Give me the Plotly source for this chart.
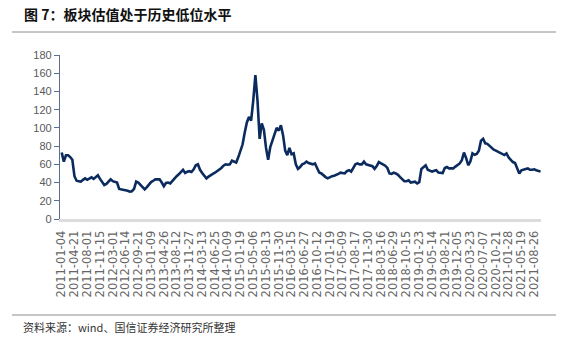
import pandas as pd
import plotly.graph_objects as go

# Tick label dates (category axis labels)
tick_dates = [
    "2011-01-04", "2011-04-21", "2011-08-01", "2011-11-15", "2012-03-01", "2012-06-14",
    "2012-09-21", "2013-01-09", "2013-04-26", "2013-08-12", "2013-11-27", "2014-03-13",
    "2014-06-25", "2014-10-09", "2015-01-19", "2015-05-06", "2015-08-13", "2015-11-30",
    "2016-03-15", "2016-06-27", "2016-10-12", "2017-01-19", "2017-05-09", "2017-08-17",
    "2017-11-30", "2018-03-16", "2018-06-29", "2018-10-15", "2019-01-23", "2019-05-14",
    "2019-08-21", "2019-12-05", "2020-03-23", "2020-07-07", "2020-10-21", "2021-01-28",
    "2021-05-19", "2021-08-26",
]
tail_dates = ["2021-09-08", "2021-09-24", "2021-10-15"]

values = [
    73, 63, 70, 70, 68, 65, 47, 42, 41.5, 41, 43, 44.6,
    43, 44.5, 45.7, 44, 46, 48, 44, 40, 37.3, 38.5, 41, 43.5,
    41.5, 41, 40, 33, 32.6, 32.5, 32, 31, 30, 30.5, 33, 41,
    40, 37.5, 35, 32.6, 35, 38, 40.5, 42, 43.5, 43.5, 43.5, 40,
    36, 39.5, 40, 39, 42, 45, 47, 49, 52, 54, 50.5, 52,
    52.5, 51.6, 54.5, 59, 60, 54, 50.5, 47, 44.6, 46.5, 48.3, 49.5,
    50.8, 52.5, 54, 56, 58.5, 60, 59.5, 60, 64, 63, 62, 68,
    74, 82, 95, 106, 112, 108, 130, 158, 130, 88, 105, 98,
    78, 65, 79, 86, 95, 100, 97, 103, 92, 75, 70, 78,
    71, 72, 60, 55, 57, 60, 61, 63, 61.5, 60.5, 60, 61,
    56, 51, 50, 47.5, 46, 44.6, 46, 47, 47.5, 48.3, 49.5, 50.8,
    50.5, 50, 52.5, 53.5, 52, 56, 60, 61, 60, 60, 63, 60,
    59.3, 59, 58, 55, 58, 62.5, 61, 60, 58.5, 56, 50, 49.5,
    50.8, 50, 48.5, 46, 43.5, 41.5, 41.5, 42.5, 40, 40.5, 41, 39,
    40.5, 55, 57, 59, 54, 53, 52, 53, 53.5, 51, 50.5, 50.5,
    56, 57, 55.6, 55.5, 55.6, 57.5, 59.5, 61, 64.5, 73, 67, 59,
    63, 72, 70.5, 71.5, 75, 86, 88, 83, 82.5, 80, 78.5, 76,
    75, 73.9, 72.5, 71, 70.2, 72, 67.5, 65, 62.5, 61.5, 55, 50,
    53.5, 54.5, 55, 55.5, 54, 54, 54.5, 53.5, 53, 52,
]

# Build category dates: 6 per label interval, then last label, then tail
dates = []
for a, b in zip(tick_dates[:-1], tick_dates[1:]):
    rng = pd.date_range(a, b, periods=7)[:-1]
    dates += [d.strftime("%Y-%m-%d") for d in rng]
dates.append(tick_dates[-1])
dates += tail_dates

n = min(len(dates), len(values))
dates = dates[:n]
values = values[:n]

L, R, T, B = 60, 26, 55, 120
W, H = 567, 339
pw = W - L - R
ph = H - T - B


def px(x):
    return (x - L) / pw


def py(y):
    return (H - B - y) / ph


fig = go.Figure()
fig.add_trace(go.Scatter(
    x=dates, y=values, mode="lines",
    line=dict(color="#0b2b5e", width=2.6),
    hoverinfo="skip", showlegend=False,
))

fig.update_layout(
    width=W, height=H,
    margin=dict(l=L, r=R, t=T, b=B, pad=0),
    paper_bgcolor="white", plot_bgcolor="white",
    font=dict(family="Liberation Sans, Arial, sans-serif", color="#595959"),
    xaxis=dict(
        type="category", range=[-0.8, n - 1 + 0.2],
        tickmode="array", tickvals=tick_dates, ticktext=tick_dates,
        tickangle=-90, tickfont=dict(family="DejaVu Sans", size=11.5, color="#666666"),
        showgrid=False, zeroline=False,
        showline=True, linecolor="#dcdcdc", linewidth=3,
        ticks="", ticklabelstandoff=4,
    ),
    yaxis=dict(
        range=[0, 180], tickmode="array", tickvals=list(range(0, 181, 20)),
        tickfont=dict(size=11, color="#595959"),
        showgrid=False, zeroline=False,
        showline=True, linecolor="#5a6f8f", linewidth=1.2,
        ticks="outside", ticklen=5, tickcolor="#5a6f8f", tickwidth=1,
    ),
)

fig.add_annotation(
    x=px(22), y=py(14), xref="paper", yref="paper",
    xanchor="left", yanchor="middle", showarrow=False,
    text="<b>图 7：板块估值处于历史低位水平</b>",
    font=dict(family="Noto Sans CJK SC", size=14, color="#111111"),
)
fig.add_shape(type="line", xref="paper", yref="paper",
              x0=px(12), x1=px(556), y0=py(32), y1=py(32),
              line=dict(color="#8c8c8c", width=1))
fig.add_shape(type="line", xref="paper", yref="paper",
              x0=px(12), x1=px(556), y0=py(315), y1=py(315),
              line=dict(color="#8c8c8c", width=1))
fig.add_annotation(
    x=px(21), y=py(327), xref="paper", yref="paper",
    xanchor="left", yanchor="middle", showarrow=False,
    text="资料来源：wind、国信证券经济研究所整理",
    font=dict(family="Noto Sans CJK SC", size=11, color="#333333"),
)

fig.write_html("out.html")
